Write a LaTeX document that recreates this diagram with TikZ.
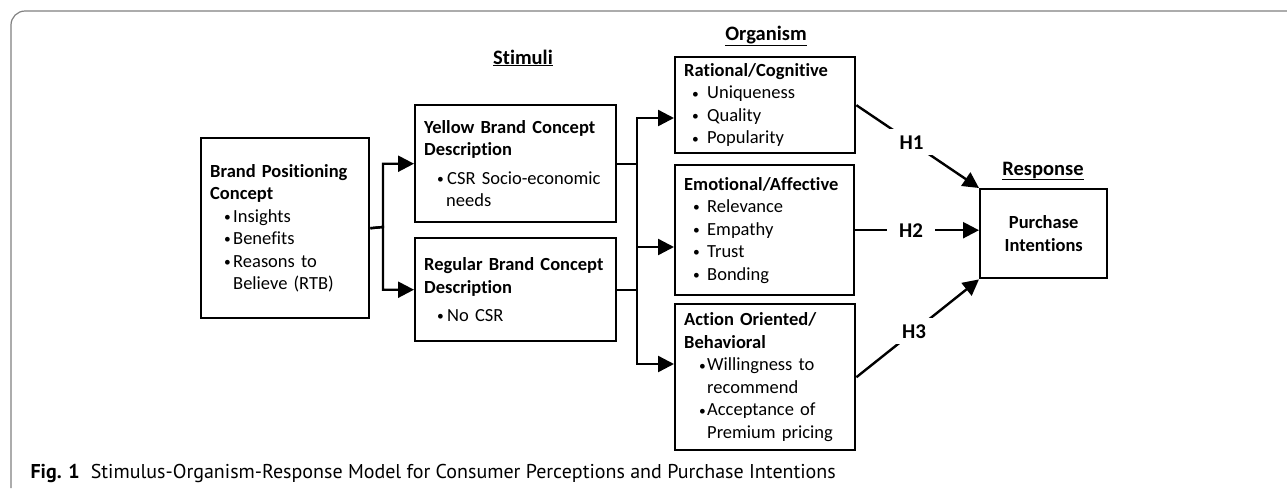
\documentclass[tikz,border=0pt]{standalone}
\usepackage{fontspec}
\setmainfont{Carlito}[Ligatures={NoCommon}]
\newfontfamily\capfont{PT Sans}
\usetikzlibrary{arrows.meta}
\definecolor{framegray}{gray}{0.5}
\newcommand{\dotb}{\raisebox{0.8pt}{\fontsize{13.5}{13.5}\selectfont\textbullet}}
\newcommand{\itm}[1][13pt]{\hspace*{#1}\makebox[\dimexpr23pt-#1\relax][l]{\dotb}}
\newcommand{\ind}{\hspace*{23pt}}
\tikzset{
  box/.style 2 args={draw, line width=2.4pt, anchor=north west, inner xsep=9pt, inner ysep=0pt,
    align=left, minimum width=#1, minimum height=#2, text width=#1-18pt,
    font=\fontsize{18.5}{22.5}\selectfont},
  head/.style={anchor=base, font=\bfseries\fontsize{20.5}{22}\selectfont},
  hlab/.style={fill=white, inner sep=0pt, minimum width=48pt, minimum height=26pt,
    font=\bfseries\fontsize{21}{22}\selectfont},
  ln/.style={line width=2.4pt},
  arr/.style={line width=2.4pt, -{Triangle[length=16pt,width=16pt]}}
}
\begin{document}
\begin{tikzpicture}[x=1pt,y=-1pt]
\useasboundingbox (0,0) rectangle (1287,488);
\draw[framegray, line width=1.2pt, rounded corners=14pt] (1287,11) -- (11,11) -- (11,488);
\node[box={168pt}{180pt}] (bpc) at (200,137) {\textbf{Brand Positioning}\\ \textbf{Concept}\\
  \itm[14pt]Insights\\ \itm[14pt]Benefits\\ \itm[14pt]Reasons to\\ \ind Believe (RTB)};
\node[box={201pt}{117pt}] (yel) at (414,104) {\textbf{Yellow Brand Concept}\\ \textbf{Description}\\[6pt]
  \itm CSR Socio-economic\\ \hspace*{22pt}needs};
\node[box={201pt}{103pt}] (reg) at (414,237) {\textbf{Regular Brand Concept}\\ \textbf{Description}\\[6pt]
  \itm No CSR};
\node[box={180pt}{96pt}] (rat) at (674,56) {\textbf{Rational/Cognitive}\\
  \itm[8pt]Uniqueness\\ \itm[8pt]Quality\\ \itm[8pt]Popularity};
\node[box={179pt}{130pt}] (emo) at (674,164) {\textbf{Emotional/Affective}\\
  \itm[9pt]Relevance\\ \itm[9pt]Empathy\\ \itm[9pt]Trust\\ \itm[9pt]Bonding};
\node[box={180pt}{146pt}] (act) at (674,303) {\textbf{Action Oriented/}\\ \textbf{Behavioral}\\
  \itm[15pt]Willingness to\\ \ind recommend\\ \itm[15pt]Acceptance of\\ \ind Premium pricing};
\node[box={127pt}{89pt}, align=center] (resp) at (979,188) {\textbf{Purchase}\\ \textbf{Intentions}};
\node[head] (hstim) at (523,64) {\underline{Stimuli}};
\node[head] (horg) at (766,40) {\underline{Organism}};
\node[head] (hresp) at (1043,175) {\underline{Response}};
\coordinate (fk) at (383,227);
\coordinate (j1) at (637,118);
\coordinate (j2) at (637,247);
\coordinate (j3) at (637,364);
\draw[arr] (bpc.east) -- (fk) |- (yel.west);
\draw[arr] (bpc.east) -- (fk) |- (reg.west);
\draw[ln] (yel.east) -- (yel.east -| j1);
\draw[ln] (reg.east) -- (reg.east -| j1);
\draw[arr] (j2) -- (j1) -- (j1 -| rat.west);
\draw[arr] (j2) -- (j3) -- (j3 -| act.west);
\draw[arr] (j2) -- (j2 -| emo.west);
\draw[arr] (rat.east) -- node[hlab, pos=0.45] (h1) {H1} (resp.north west);
\draw[arr] (emo.east) -- node[hlab, pos=0.45] (h2) {H2} (emo.east -| resp.west);
\draw[arr] (act.east) -- node[hlab, pos=0.47] (h3) {H3} (resp.south west);
\node[anchor=base west, font=\capfont\fontsize{20}{22}\selectfont] (cap) at (27,478)
  {\textbf{Fig. 1}\hspace{11pt}Stimulus-Organism-Response Model for Consumer Perceptions and Purchase Intentions};
\end{tikzpicture}
\end{document}
